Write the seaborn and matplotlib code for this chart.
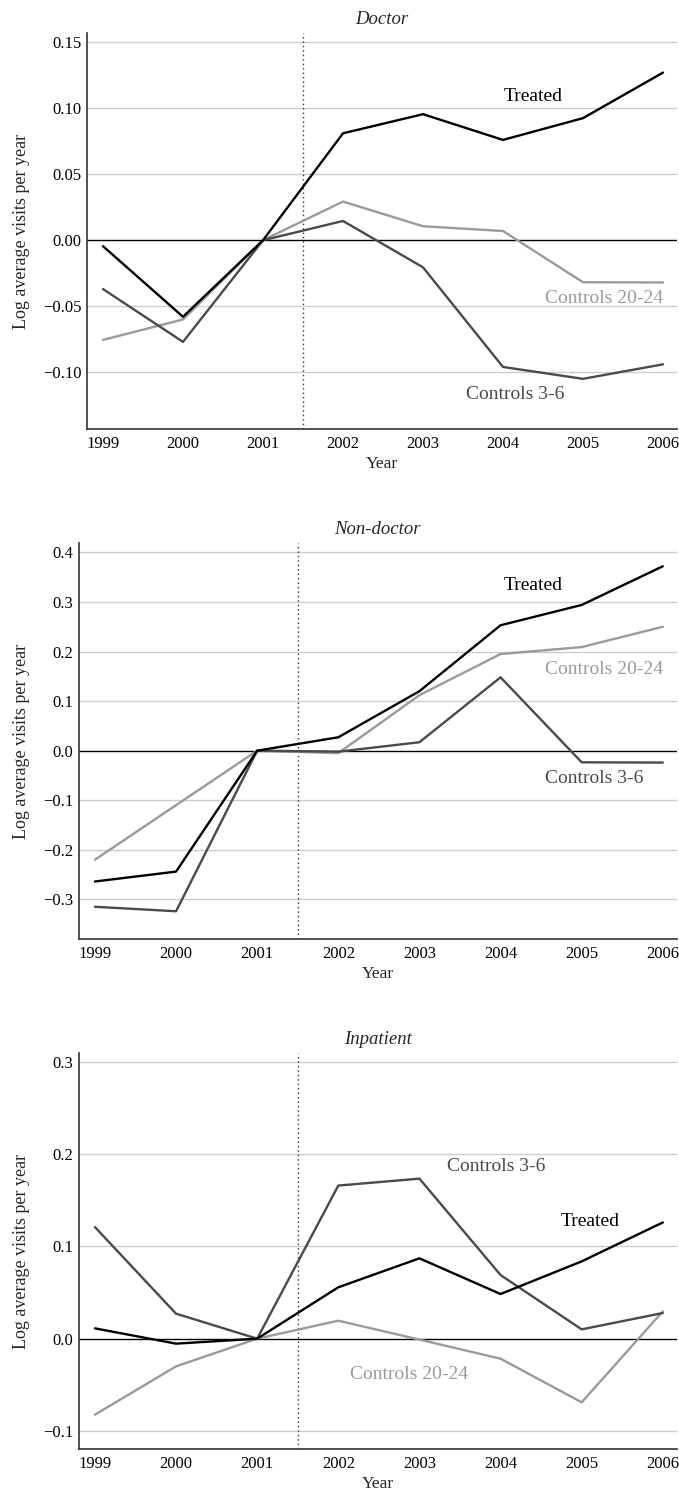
import numpy as np
import pandas as pd
import seaborn as sns
import matplotlib
matplotlib.use("Agg")
import matplotlib.pyplot as plt

# ---- data -------------------------------------------------------------
years = [1999, 2000, 2001, 2002, 2003, 2004, 2005, 2006]
groups = ["Treated", "Controls 3-6", "Controls 20-24"]

doctor_treated = [-0.0045, -0.058, 0.0, 0.081, 0.0955, 0.076, 0.0925, 0.127]
doctor_c36 = [-0.037, -0.077, 0.0, 0.0146, -0.0205, -0.096, -0.105, -0.094]
doctor_c2024 = [-0.0755, -0.060, 0.0, 0.0293, 0.0106, 0.007, -0.0318, -0.032]

nondoc_treated = [-0.264, -0.244, 0.0, 0.027, 0.120, 0.253, 0.294, 0.372]
nondoc_c36 = [-0.315, -0.324, 0.0, -0.002, 0.017, 0.148, -0.0235, -0.024]
nondoc_c2024 = [-0.220, -0.110, 0.0, -0.005, 0.112, 0.195, 0.209, 0.250]

inpat_treated = [0.0112, -0.0054, 0.0, 0.0557, 0.0871, 0.0484, 0.0838, 0.126]
inpat_c36 = [0.121, 0.0271, 0.0, 0.166, 0.1735, 0.069, 0.0101, 0.0278]
inpat_c2024 = [-0.0824, -0.030, 0.0, 0.0195, -0.001, -0.0217, -0.069, 0.0296]

panel_titles = ["Doctor", "Non-doctor", "Inpatient"]
doctor_yticks = [-0.10, -0.05, 0.00, 0.05, 0.10, 0.15]
nondoc_yticks = [-0.3, -0.2, -0.1, 0.0, 0.1, 0.2, 0.3, 0.4]
inpat_yticks = [-0.1, 0.0, 0.1, 0.2, 0.3]

# ---- style ------------------------------------------------------------
sns.set_style("white")
plt.rcParams["font.family"] = ["Liberation Serif", "DejaVu Serif"]
plt.rcParams["mathtext.fontset"] = "dejavuserif"

palette = {"Treated": "#000000", "Controls 3-6": "#4a4a4a",
           "Controls 20-24": "#9a9a9a"}

W, H = 679, 1493
fig = plt.figure(figsize=(W / 100, H / 100), dpi=100)


def frac_box(left, top, right, bottom):
    return [left / W, 1 - bottom / H, (right - left) / W, (bottom - top) / H]


panels = [
    dict(title="Doctor", series=[doctor_treated, doctor_c36, doctor_c2024],
         box=(87, 33, 677, 429), ylim=(-0.143, 0.157), yticks=doctor_yticks,
         fmt="{:.2f}",
         labels={"Treated": (2004.375, 0.109),
                 "Controls 20-24": (2005.26, -0.044),
                 "Controls 3-6": (2004.15, -0.1167)}),
    dict(title="Non-doctor", series=[nondoc_treated, nondoc_c36, nondoc_c2024],
         box=(78.7, 543, 677, 939), ylim=(-0.380, 0.419), yticks=nondoc_yticks,
         fmt="{:.1f}",
         labels={"Treated": (2004.40, 0.333),
                 "Controls 20-24": (2005.27, 0.163),
                 "Controls 3-6": (2005.15, -0.057)}),
    dict(title="Inpatient", series=[inpat_treated, inpat_c36, inpat_c2024],
         box=(78.7, 1053, 677, 1449), ylim=(-0.1196, 0.3097), yticks=inpat_yticks,
         fmt="{:.1f}",
         labels={"Controls 3-6": (2003.95, 0.1865),
                 "Treated": (2005.10, 0.127),
                 "Controls 20-24": (2002.87, -0.039)}),
]

for p in panels:
    left, top, right, bottom = p["box"]
    ax = fig.add_axes(frac_box(left, top, right, bottom))

    rows = []
    for g, vals in zip(groups, p["series"]):
        for yr, v in zip(years, vals):
            rows.append({"Year": yr, "value": v, "group": g})
    df = pd.DataFrame(rows)

    # grid and reference lines
    for t in p["yticks"]:
        if abs(t) > 1e-9:
            ax.axhline(t, color="#cccccc", lw=1.0, zorder=0)
    ax.axhline(0, color="black", lw=1.0, zorder=1)
    ax.axvline(2001.5, color="#333333", lw=1.0, ls=(0, (1, 2.2)), zorder=1)

    sns.lineplot(data=df, x="Year", y="value", hue="group", hue_order=groups[::-1],
                 palette=palette, linewidth=1.7, legend=False, ax=ax, zorder=3)

    for name, (lx, ly) in p["labels"].items():
        ax.text(lx, ly, name, color=palette[name], fontsize=14,
                ha="center", va="center")

    ax.set_xlim(1998.8, 2006.175)
    ax.set_ylim(*p["ylim"])
    ax.set_xticks(years)
    ax.set_xticklabels([str(y) for y in years])
    ax.set_yticks(p["yticks"])
    ax.set_yticklabels([p["fmt"].format(t).replace("-", "\u2212") for t in p["yticks"]])
    ax.tick_params(axis="both", direction="in", length=4, width=0.8,
                   colors="#333333", labelcolor="black", labelsize=12)
    ax.tick_params(axis="x", pad=5)
    ax.tick_params(axis="y", pad=4)
    ax.set_xlabel("")
    ax.set_ylabel("")

    for side in ["top", "right"]:
        ax.spines[side].set_visible(False)
    for side in ["left", "bottom"]:
        ax.spines[side].set_color("#333333")
        ax.spines[side].set_linewidth(1.2)

    cx = (left + right) / 2
    fig.text(cx / W, 1 - (top - 13) / H, p["title"], style="italic",
             fontsize=13.5, ha="center", va="center")
    fig.text(cx / W, 1 - (bottom + 35) / H, "Year", fontsize=12.5,
             ha="center", va="center")
    fig.text(22 / W, 1 - ((top + bottom) / 2) / H, "Log average visits per year",
             rotation=90, fontsize=13, ha="center", va="center")

fig.savefig("out.png", dpi=100)
